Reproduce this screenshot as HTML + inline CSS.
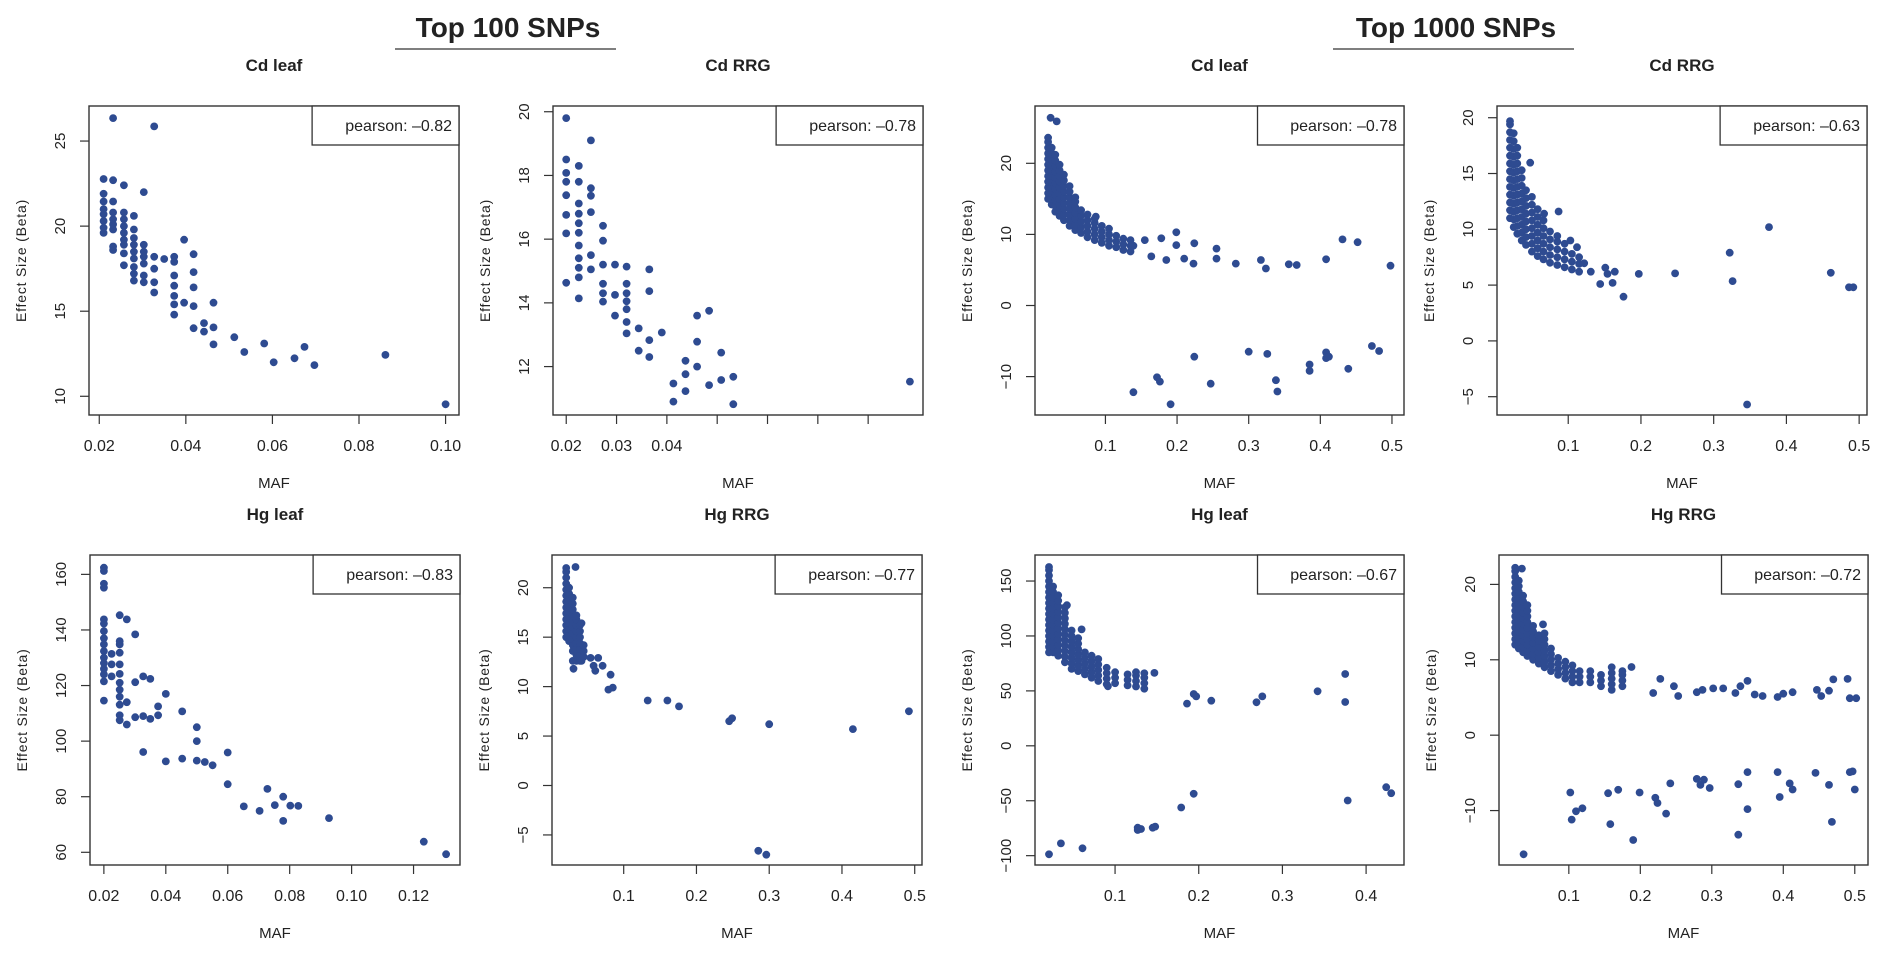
<!DOCTYPE html>
<html><head><meta charset="utf-8">
<style>
html,body{margin:0;padding:0;background:#fff;}
svg{display:block;}
text{font-family:"Liberation Sans Narrow","Liberation Sans",sans-serif;fill:#222;}
</style></head>
<body>
<svg id="fig" width="1879" height="958" viewBox="0 0 1879 958" xmlns="http://www.w3.org/2000/svg">
<text x="508" y="37" text-anchor="middle" font-size="28" font-weight="bold" fill="#111">Top 100 SNPs</text>
<line x1="395" y1="49" x2="616" y2="49" stroke="#555" stroke-width="1.5"/>
<text x="1456" y="37" text-anchor="middle" font-size="28" font-weight="bold" fill="#111">Top 1000 SNPs</text>
<line x1="1333" y1="49" x2="1574" y2="49" stroke="#555" stroke-width="1.5"/>
</svg>
<script>
// ---- data (MAF, effect-size columns) ----
const cdLeaf100 = [[0.021,[19.6,19.9,20.3,20.7,21.0,21.45,21.9,22.77]],[0.0232,[18.6,18.8,19.8,20.1,20.4,20.8,21.45,22.7,26.35]],[0.0257,[17.7,18.4,18.9,19.2,19.6,20,20.4,20.8,22.4]],[0.028,[16.8,17.2,17.6,18.1,18.5,18.9,19.3,19.8,20.6]],[0.0303,[16.7,17.1,17.8,18.2,18.5,18.9,22.0]],[0.0327,[16.1,16.7,17.5,18.2,25.86]],[0.035,[18.07]],[0.0373,[18.2,17.9,17.1,16.5,15.9,15.4,14.8]],[0.0396,[19.2,15.5]],[0.0418,[18.35,17.3,16.4,15.3,14.0]],[0.0442,[14.3,13.8]],[0.0464,[15.5,14.05,13.05]],[0.0512,[13.47]],[0.0535,[12.6]],[0.0581,[13.1]],[0.0603,[12.0]],[0.0651,[12.23]],[0.0674,[12.9]],[0.0697,[11.83]],[0.0861,[12.43]],[0.10,[9.53]]];
const cdRrg100 = [[0.02,[19.8,18.5,18.08,17.8,17.38,16.76,16.18,14.63]],[0.0225,[18.3,17.8,17.12,16.8,16.5,16.2,15.8,15.4,15.1,14.8,14.14]],[0.0249,[19.1,17.6,17.36,16.85,15.5,15.05]],[0.0273,[16.42,15.95,15.2,14.6,14.3,14.04]],[0.0297,[15.2,14.25,13.6]],[0.032,[15.14,14.6,14.3,14.05,13.8,13.4,13.04]],[0.0344,[13.2,12.5]],[0.0365,[15.05,14.37,12.83,12.3]],[0.039,[13.07]],[0.0413,[11.47,10.9]],[0.0437,[12.18,11.76,11.23]],[0.046,[13.6,12.78,12.0]],[0.0484,[13.75,11.42]],[0.0508,[12.44,11.58]],[0.0532,[11.68,10.82]],[0.0883,[11.53]]];
const cdLeaf1000 = [[0.02,[15,15.8,16.6,17.4,18.2,19,19.8,20.6,21.4,22.2,23,23.6]],[0.0235,[26.4]],[0.025,[14.2,15,15.8,16.6,17.4,18.2,19,19.8,20.6,21.4,22.2]],[0.03,[13.2,14,14.8,15.6,16.4,17.2,18,18.8,19.6,20.4,21.2]],[0.032,[25.9]],[0.036,[12.6,13.4,14.2,15,15.8,16.6,17.4,18.2,19,19.8]],[0.042,[12,12.8,13.6,14.4,15.2,16,16.8,17.6,18.4]],[0.05,[11.2,12,12.8,13.6,14.4,15.2,16,16.8]],[0.058,[10.6,11.4,12.2,13,13.8,14.6,15.2]],[0.066,[10.2,11,11.8,12.6,13.4]],[0.075,[9.6,10.4,11.2,12,12.8]],[0.085,[9.2,10,10.8,11.6,12.2]],[0.0866,[12.5]],[0.095,[8.8,9.6,10.4,11.2]],[0.105,[8.4,9.2,10,10.8]],[0.115,[8.2,9,9.8]],[0.125,[7.8,8.6,9.4]],[0.135,[7.6,8.4,9.2]],[0.139,[8.4,-12.2]],[0.155,[9.2]],[0.164,[6.9]],[0.172,[-10.1]],[0.176,[-10.7]],[0.178,[9.45]],[0.185,[6.4]],[0.191,[-13.9]],[0.199,[10.3,8.5]],[0.21,[6.6]],[0.223,[5.9]],[0.224,[8.75,-7.2]],[0.247,[-11.0]],[0.255,[8.0,6.6]],[0.282,[5.9]],[0.3,[-6.5]],[0.317,[6.4]],[0.324,[5.2]],[0.326,[-6.8]],[0.338,[-10.5]],[0.34,[-12.1]],[0.356,[5.8]],[0.367,[5.7]],[0.385,[-8.3,-9.2]],[0.408,[6.5,-6.6,-7.4]],[0.412,[-7.2]],[0.431,[9.3]],[0.439,[-8.9]],[0.452,[8.9]],[0.472,[-5.7]],[0.482,[-6.4]],[0.498,[5.6]]];
const cdRrg1000 = [[0.02,[11,11.7,12.4,13.1,13.8,14.5,15.2,15.9,16.6,17.3,18,18.7,19.4,19.7]],[0.025,[10.2,10.9,11.6,12.3,13,13.7,14.4,15.1,15.8,16.5,17.2,17.9,18.6]],[0.03,[9.6,10.3,11,11.7,12.4,13.1,13.8,14.5,15.2,15.9,16.6,17.3]],[0.036,[9,9.7,10.4,11.1,11.8,12.5,13.2,13.9,14.6,15.3]],[0.042,[8.6,9.3,10,10.7,11.4,12.1,12.8,13.5]],[0.0477,[15.97]],[0.05,[8,8.7,9.4,10.1,10.8,11.5,12.2,12.9]],[0.058,[7.6,8.3,9,9.7,10.4,11.1,11.8]],[0.066,[7.3,8,8.7,9.4,10.1,10.8]],[0.0668,[11.4]],[0.075,[7,7.7,8.4,9.1,9.8]],[0.085,[6.8,7.5,8.2,8.9,9.4]],[0.0867,[11.6]],[0.095,[6.6,7.3,8,8.7]],[0.103,[9.0]],[0.105,[6.4,7.1,7.8]],[0.112,[8.4]],[0.115,[6.2,6.9,7.5]],[0.122,[6.95]],[0.131,[6.2]],[0.144,[5.1]],[0.151,[6.56]],[0.154,[6.0]],[0.161,[5.2]],[0.164,[6.2]],[0.176,[3.96]],[0.197,[6.0]],[0.247,[6.05]],[0.322,[7.9]],[0.326,[5.36]],[0.346,[-5.7]],[0.376,[10.2]],[0.461,[6.1]],[0.486,[4.8]],[0.492,[4.8]]];
const hgLeaf100 = [[0.02,[162.4,161.2,156.6,155.2,143.8,142.3,139.6,137,134.8,132.4,130,128,126,124,121.5,114.6]],[0.0225,[131.4,127.6,123.3]],[0.0251,[145.3,136,134.8,131.8,127.6,124.2,121,118.5,116,113.1,109.3,107.5]],[0.0274,[143.8,114,106]],[0.0301,[138.4,121.2,108.6]],[0.0327,[123.3,109,96.1]],[0.035,[122.4,108]],[0.0375,[112.5,109.3]],[0.04,[117,92.7]],[0.0453,[110.7,93.7]],[0.05,[105,100,93]],[0.0526,[92.5]],[0.0551,[91.3]],[0.06,[95.9,84.5]],[0.0652,[76.5]],[0.0703,[74.9]],[0.0728,[82.8]],[0.0752,[77]],[0.0779,[80,71.3]],[0.0802,[76.8]],[0.0828,[76.7]],[0.0927,[72.3]],[0.1233,[63.8]],[0.1305,[59.3]]];
const hgRrg100 = [[0.021,[15,15.6,16.2,16.8,17.4,18,18.6,19.2,19.8,20.4,21,21.6,22.0]],[0.025,[14.6,15.2,15.8,16.4,17,17.6,18.2,18.8,19.4,20]],[0.03,[13.6,14.2,14.8,15.4,16,16.6,17.2,17.8,18.4,19,12.6]],[0.031,[11.8]],[0.0337,[22.1]],[0.035,[12.6,13.2,13.8,14.4,15,15.6,16.2,16.8,17.2]],[0.04,[12.6,13.2,13.8,14.4,15,15.6,16.2]],[0.042,[16.4,12.6]],[0.045,[13,13.6,14.2]],[0.0545,[12.9]],[0.0586,[12.1]],[0.061,[11.6]],[0.065,[12.9]],[0.071,[12.1]],[0.079,[9.7]],[0.082,[11.2]],[0.085,[9.9]],[0.133,[8.6]],[0.16,[8.6]],[0.176,[8.0]],[0.245,[6.5]],[0.249,[6.8]],[0.285,[-6.6]],[0.296,[-7.0]],[0.3,[6.2]],[0.415,[5.7]],[0.492,[7.5]]];
const hgLeaf1000 = [[0.021,[85,90,95,100,105,110,115,120,125,130,135,140,145,150,155,160,162.8,-98.8]],[0.026,[85,90,95,100,105,110,115,120,125,130,135,140,145]],[0.032,[82,87,92,97,102,107,112,117,122,127,132,137]],[0.0353,[-88.8]],[0.04,[76,81,86,91,96,101,106,111,116,121,126]],[0.0424,[128]],[0.048,[70,75,80,85,90,95,100,105]],[0.056,[68,73,78,83,88,93,98]],[0.06,[106]],[0.0611,[-93.3]],[0.064,[65,70,75,80,85]],[0.072,[62,67,72,77,82]],[0.08,[59,64,69,74,79]],[0.09,[56,61,66,71]],[0.0914,[54.2]],[0.1,[57,62,67]],[0.115,[55,60,65]],[0.125,[54,59,64,67]],[0.127,[-74.5,-76.6]],[0.131,[-75.7]],[0.135,[52,57,62,66]],[0.145,[-74.5]],[0.147,[66.4]],[0.148,[-73.5]],[0.179,[-56.2]],[0.186,[38.4]],[0.194,[47.2,-43.7]],[0.197,[45]],[0.215,[41.1]],[0.269,[39.6]],[0.276,[45]],[0.342,[49.6]],[0.375,[65.4,39.9]],[0.378,[-49.8]],[0.424,[-37.7]],[0.43,[-43.1]]];
const hgRrg1000 = [[0.025,[12,12.75,13.5,14.25,15,15.75,16.5,17.25,18,18.75,19.5,20.25,21,21.75,22.2]],[0.03,[11.5,12.25,13,13.75,14.5,15.25,16,16.75,17.5,18.25,19,19.75,20.5]],[0.0343,[22.1]],[0.036,[11,11.75,12.5,13.25,14,14.75,15.5,16.25,17,17.75,18.5]],[0.0368,[-15.8]],[0.042,[10.5,11.25,12,12.75,13.5,14.25,15,15.75,16.5,17.25]],[0.05,[10,10.75,11.5,12.25,13,13.75,14.5]],[0.058,[9.5,10.25,11,11.75,12.5,13.25]],[0.0638,[14.7]],[0.066,[9,9.75,10.5,11.25,12,12.75,13.5]],[0.075,[8.5,9.25,10,10.75,11.5]],[0.085,[8,8.75,9.5,10.25]],[0.095,[7.5,8.25,9,9.75]],[0.102,[-7.6]],[0.104,[-11.2]],[0.105,[7,7.75,8.5,9.25]],[0.11,[-10.1]],[0.115,[7,7.75,8.5]],[0.119,[-9.7]],[0.13,[7,7.75,8.5]],[0.145,[6.5,7.25,8]],[0.155,[-7.7]],[0.158,[-11.8]],[0.16,[6,6.75,7.5,8.25,9]],[0.169,[-7.25]],[0.175,[6.5,7.25,8,8.5]],[0.1876,[9.05]],[0.19,[-13.9]],[0.199,[-7.6]],[0.218,[5.6]],[0.221,[-8.3]],[0.224,[-9.0]],[0.228,[7.46]],[0.236,[-10.4]],[0.242,[-6.4]],[0.247,[6.5]],[0.253,[5.2]],[0.279,[5.7,-5.8]],[0.284,[-6.6]],[0.287,[6.0]],[0.289,[-5.9]],[0.297,[-7.0]],[0.302,[6.2]],[0.316,[6.2]],[0.333,[5.6]],[0.337,[-6.5,-13.2]],[0.34,[6.5]],[0.35,[7.2,-4.9,-9.8]],[0.36,[5.4]],[0.371,[5.2]],[0.392,[5.07,-4.9]],[0.395,[-8.2]],[0.4,[5.5]],[0.409,[-6.4]],[0.413,[5.7,-7.2]],[0.445,[-5.0]],[0.447,[6.0]],[0.453,[5.2]],[0.464,[5.9,-6.6]],[0.468,[-11.5]],[0.47,[7.4]],[0.49,[7.46]],[0.493,[4.9,-4.9]],[0.497,[-4.8]],[0.5,[-7.2]],[0.502,[4.9]]];

// ---- tick values ----
const xTicks100a = [0.02,0.04,0.06,0.08,0.10];
const xTickLabels100a = ["0.02","0.04","0.06","0.08","0.10"];
const xTicksCdRrg100 = [0.02,0.03,0.04,0.05,0.06,0.07,0.08];
const xTickLabelsCdRrg100 = ["0.02","0.03","0.04","","","",""];
const xTicksHgLeaf100 = [0.02,0.04,0.06,0.08,0.10,0.12];
const xTickLabelsHgLeaf100 = ["0.02","0.04","0.06","0.08","0.10","0.12"];
const xTicksHalf = [0.1,0.2,0.3,0.4,0.5];
const xTickLabelsHalf = ["0.1","0.2","0.3","0.4","0.5"];
const xTicksHgLeaf1000 = [0.1,0.2,0.3,0.4];
const xTickLabelsHgLeaf1000 = ["0.1","0.2","0.3","0.4"];
const yTicksCdLeaf100 = [10,15,20,25];
const yTicksCdRrg100 = [12,14,16,18,20];
const yTicksCdLeaf1000 = [-10,0,10,20];
const yTicksCdRrg1000 = [-5,0,5,10,15,20];
const yTicksHgLeaf100 = [60,80,100,120,140,160];
const yTicksHgRrg100 = [-5,0,5,10,15,20];
const yTicksHgLeaf1000 = [-100,-50,0,50,100,150];
const yTicksHgRrg1000 = [-10,0,10,20];
const pearsonValues = ["-0.82","-0.78","-0.78","-0.63","-0.83","-0.77","-0.67","-0.72"];

const panels = [
 {name:"cd-leaf-100",title:"Cd  leaf",box:[89,106,370,309],xd:[0.01763,0.1031],yd:[8.90,27.06],data:cdLeaf100,xt:xTicks100a,xl:xTickLabels100a,yt:yTicksCdLeaf100},
 {name:"cd-rrg-100",title:"Cd  RRG",box:[553,106,370,309],xd:[0.01737,0.0909],yd:[10.48,20.18],data:cdRrg100,xt:xTicksCdRrg100,xl:xTickLabelsCdRrg100,yt:yTicksCdRrg100},
 {name:"cd-leaf-1000",title:"Cd  leaf",box:[1035,106,369,309],xd:[0.00168,0.5168],yd:[-15.40,28.06],data:cdLeaf1000,xt:xTicksHalf,xl:xTickLabelsHalf,yt:yTicksCdLeaf1000},
 {name:"cd-rrg-1000",title:"Cd  RRG",box:[1497,106,370,309],xd:[0.00207,0.5108],yd:[-6.64,21.05],data:cdRrg1000,xt:xTicksHalf,xl:xTickLabelsHalf,yt:yTicksCdRrg1000},
 {name:"hg-leaf-100",title:"Hg  leaf",box:[90,555,370,310],xd:[0.01552,0.135],yd:[55.43,166.97],data:hgLeaf100,xt:xTicksHgLeaf100,xl:xTickLabelsHgLeaf100,yt:yTicksHgLeaf100},
 {name:"hg-rrg-100",title:"Hg  RRG",box:[552,555,370,310],xd:[0.00145,0.51],yd:[-8.04,23.31],data:hgRrg100,xt:xTicksHalf,xl:xTickLabelsHalf,yt:yTicksHgRrg100},
 {name:"hg-leaf-1000",title:"Hg  leaf",box:[1035,555,369,310],xd:[0.00432,0.4453],yd:[-108.5,173.7],data:hgLeaf1000,xt:xTicksHgLeaf1000,xl:xTickLabelsHgLeaf1000,yt:yTicksHgLeaf1000},
 {name:"hg-rrg-1000",title:"Hg  RRG",box:[1499,555,369,310],xd:[0.00232,0.5185],yd:[-17.22,23.9],data:hgRrg1000,xt:xTicksHalf,xl:xTickLabelsHalf,yt:yTicksHgRrg1000}
];

const NS="http://www.w3.org/2000/svg";
const svg=document.getElementById('fig');
function mk(tag,attrs,parent,txt){const e=document.createElementNS(NS,tag);for(const k in attrs)e.setAttribute(k,attrs[k]);if(txt!==undefined)e.textContent=txt;parent.appendChild(e);return e;}
function fmt(v){return v<0?"\u2212"+String(-v):String(v);}

panels.forEach((p,i)=>{
  const [bx,by,bw,bh]=p.box;
  const sx=v=>bx+(v-p.xd[0])/(p.xd[1]-p.xd[0])*bw;
  const sy=v=>by+bh-(v-p.yd[0])/(p.yd[1]-p.yd[0])*bh;
  const g=mk('g',{},svg);
  
  
  const cx=bx+bw/2;
  const t=mk('text',{x:cx,y:by-35,'text-anchor':'middle','font-size':17,'font-weight':'bold',fill:'#111','xml:space':'preserve'},g,p.title);
  
  
  const pts=mk('g',{fill:'#2e4b91'},g);
  
  
  p.data.forEach(col=>{
    col[1].forEach(yv=>{
      const c=mk('circle',{cx:sx(col[0]).toFixed(1),cy:sy(yv).toFixed(1),r:3.9},pts);
      
      
    });
  });
  const r=mk('rect',{x:bx,y:by,width:bw,height:bh,fill:'none',stroke:'#333','stroke-width':1.4},g);
  
  
  p.xt.forEach((v,k)=>{
    const x=sx(v);
    const tl=mk('line',{x1:x,y1:by+bh,x2:x,y2:by+bh+9,stroke:'#333','stroke-width':1.2},g);
    
    
    if(p.xl[k]){
      const lb=mk('text',{x:x,y:by+bh+36,'text-anchor':'middle','font-size':16},g,p.xl[k]);
      
      
    }
  });
  p.yt.forEach(v=>{
    const y=sy(v);
    const tl=mk('line',{x1:bx,y1:y,x2:bx-9,y2:y,stroke:'#333','stroke-width':1.2},g);
    
    
    const lx=bx-24;
    const lb=mk('text',{x:lx,y:y,'text-anchor':'middle','font-size':15,transform:`rotate(-90 ${lx} ${y})`,'font-family':'Liberation Sans, sans-serif',fill:'#333'},g,fmt(v));
    
    
  });
  const xa=mk('text',{x:cx,y:by+bh+73,'text-anchor':'middle','font-size':15,fill:'#333'},g,'MAF');
  
  
  const ax=bx-63, ay=by+bh/2;
  const ya=mk('text',{x:ax,y:ay,'text-anchor':'middle','font-size':14,'letter-spacing':'0.8','font-family':'Liberation Sans, sans-serif',fill:'#333',transform:`rotate(-90 ${ax} ${ay})`},g,'Effect Size (Beta)');
  
  
  const lx0=bx+bw*0.603;
  const lg=mk('rect',{x:lx0,y:by,width:bx+bw-lx0,height:39,fill:'#fff',stroke:'#333','stroke-width':1.3},g);
  
  
  const lt=mk('text',{x:bx+bw-7,y:by+25,'text-anchor':'end','font-size':16},g,'pearson: '+pearsonValues[i].replace('-','\u2013'));
  
  
});
</script>
</body></html>
